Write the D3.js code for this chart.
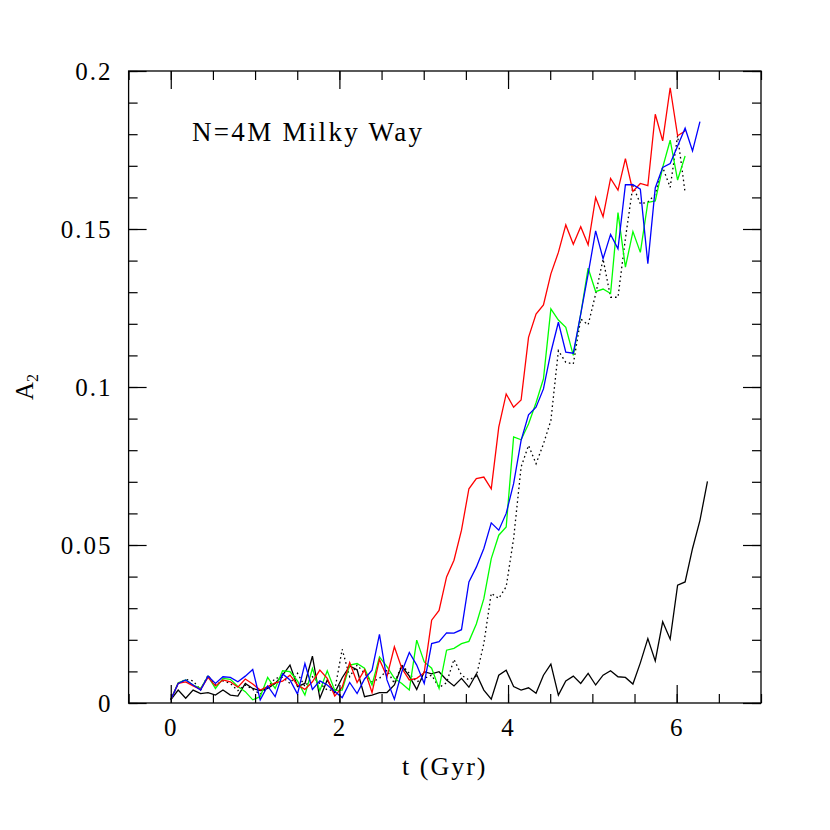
<!DOCTYPE html>
<html>
<head>
<meta charset="utf-8">
<script src="https://cdn.jsdelivr.net/npm/d3@7"></script>
<style>
  html, body { margin: 0; padding: 0; background: #fff; }
  svg { display: block; }
  .tick-label { font-family: "Liberation Serif", serif; font-size: 25px; letter-spacing: 2px; fill: #000; }
</style>
</head>
<body>
<svg id="chart" width="830" height="830"></svg>
<script>
const tGyr = [0, 0.088, 0.177, 0.265, 0.354, 0.442, 0.530, 0.619, 0.707, 0.796,
  0.884, 0.972, 1.061, 1.149, 1.238, 1.326, 1.414, 1.503, 1.591, 1.680,
  1.768, 1.856, 1.945, 2.033, 2.122, 2.210, 2.298, 2.387, 2.475, 2.564,
  2.652, 2.740, 2.829, 2.917, 3.006, 3.094, 3.182, 3.271, 3.359, 3.448,
  3.536, 3.624, 3.713, 3.801, 3.890, 3.978, 4.066, 4.155, 4.243, 4.332,
  4.420, 4.508, 4.597, 4.685, 4.774, 4.862, 4.950, 5.039, 5.127, 5.216,
  5.304, 5.392, 5.481, 5.569, 5.658, 5.746, 5.834, 5.923, 6.011, 6.100,
  6.188, 6.276, 6.365];

const a2Black = [0.001, 0.0041, 0.0015, 0.0041, 0.003, 0.0033, 0.0025, 0.0041, 0.0025, 0.0022,
  0.0062, 0.0046, 0.0039, 0.0046, 0.0062, 0.0088, 0.012, 0.0052, 0.0062, 0.0148,
  0.0015, 0.0073, 0.0033, 0.008, 0.0117, 0.0105, 0.002, 0.0025, 0.0033, 0.0033,
  0.0057, 0.0117, 0.0085, 0.0043, 0.0099, 0.0092, 0.0099, 0.0073, 0.0054, 0.0078,
  0.005, 0.0092, 0.0041, 0.0012, 0.0088, 0.0104, 0.0052, 0.0041, 0.0048, 0.0031,
  0.0088, 0.0123, 0.0025, 0.007, 0.0085, 0.0062, 0.0094, 0.0057, 0.0088, 0.0102,
  0.0083, 0.0081, 0.006, 0.0127, 0.0204, 0.0133, 0.0257, 0.0202, 0.0373, 0.0383,
  0.0489, 0.0578, 0.0701];

const a2Dotted = [0.001, 0.0062, 0.0075, 0.007, 0.0041, 0.0088, 0.0057, 0.007, 0.0062, 0.0039,
  0.0057, 0.0043, 0.0028, 0.0049, 0.0078, 0.0081, 0.0062, 0.0094, 0.0052, 0.0083,
  0.0062, 0.0041, 0.0041, 0.017, 0.0083, 0.012, 0.0094, 0.0067, 0.0078, 0.0104,
  0.0062, 0.012, 0.0094, 0.0067, 0.0078, 0.0088, 0.0049, 0.0064, 0.0138, 0.0088,
  0.0073, 0.0085, 0.0188, 0.0347, 0.0331, 0.0368, 0.052, 0.0747, 0.0815, 0.0757,
  0.082, 0.0894, 0.1115, 0.1078, 0.1073, 0.1215, 0.1197, 0.1294, 0.1405, 0.1284,
  0.1284, 0.147, 0.1637, 0.158, 0.1585, 0.161, 0.1695, 0.1632, 0.1795, 0.1615];

const a2Green = [0.001, 0.0064, 0.0073, 0.0057, 0.0046, 0.0085, 0.0046, 0.0078, 0.0075, 0.0052,
  0.0036, 0.001, 0.002, 0.0081, 0.0046, 0.0102, 0.0099, 0.007, 0.0025, 0.0109,
  0.0039, 0.0102, 0.004, 0.0041, 0.012, 0.0125, 0.011, 0.0057, 0.0146, 0.0115,
  0.0078, 0.0062, 0.0041, 0.0199, 0.013, 0.011, 0.0046, 0.0167, 0.0173, 0.0188,
  0.0195, 0.025, 0.033, 0.0457, 0.0531, 0.0557, 0.0842, 0.0833, 0.0883, 0.095,
  0.1026, 0.1247, 0.1212, 0.1189, 0.11, 0.1231, 0.1376, 0.1302, 0.131, 0.1296,
  0.1552, 0.1379, 0.1492, 0.1426, 0.1584, 0.1589, 0.1695, 0.1781, 0.1655, 0.1731];

const a2Red = [0.001, 0.0062, 0.0067, 0.0054, 0.0043, 0.0081, 0.0054, 0.0073, 0.0067, 0.005,
  0.0076, 0.006, 0.0041, 0.0052, 0.0064, 0.0069, 0.0088, 0.0057, 0.0043, 0.0067,
  0.0104, 0.0078, 0.0022, 0.005, 0.0128, 0.0065, 0.0105, 0.0033, 0.0138, 0.0083,
  0.0178, 0.011, 0.0073, 0.0078, 0.0096, 0.0262, 0.0293, 0.0399, 0.0452, 0.0547,
  0.0678, 0.071, 0.0715, 0.0678, 0.0873, 0.0978, 0.0936, 0.0959, 0.1157, 0.1231,
  0.126, 0.1358, 0.1426, 0.1513, 0.1452, 0.1507, 0.145, 0.16, 0.1539, 0.166,
  0.1623, 0.1723, 0.1619, 0.1644, 0.1637, 0.1863, 0.1779, 0.1947, 0.1795, 0.181];

const a2Blue = [0.001, 0.0062, 0.0073, 0.0057, 0.0041, 0.0085, 0.0062, 0.0083, 0.0081, 0.0067,
  0.0085, 0.0106, 0.001, 0.0054, 0.002, 0.0092, 0.0073, 0.0028, 0.0125, 0.0043,
  0.007, 0.0057, 0.0036, 0.0017, 0.0065, 0.003, 0.0076, 0.0104, 0.0217, 0.0073,
  0.0012, 0.0099, 0.016, 0.012, 0.0062, 0.0188, 0.0194, 0.0222, 0.0221, 0.0232,
  0.0383, 0.043, 0.0489, 0.057, 0.0547, 0.06, 0.0694, 0.0831, 0.0912, 0.0936,
  0.0994, 0.111, 0.1205, 0.111, 0.1107, 0.1231, 0.1358, 0.1494, 0.1406, 0.1483,
  0.1437, 0.164, 0.164, 0.1626, 0.139, 0.163, 0.1695, 0.1707, 0.1763, 0.1819,
  0.1747, 0.184];

const xTicks = [0, 2, 4, 6];
const xTickLabels = ["0", "2", "4", "6"];
const yTicks = [0, 0.05, 0.1, 0.15, 0.2];
const yTickLabels = ["0", "0.05", "0.1", "0.15", "0.2"];

const series = [
  { values: a2Black, color: "#000000", dash: null },
  { values: a2Dotted, color: "#000000", dash: "1.6,3" },
  { values: a2Green, color: "#00ff00", dash: null },
  { values: a2Red, color: "#ff0000", dash: null },
  { values: a2Blue, color: "#0000ff", dash: null }
];

const frameLeft = 128.6, frameRight = 761, frameTop = 71, frameBottom = 703;
const svg = d3.select("#chart");
svg.append("rect").attr("width", 830).attr("height", 830).attr("fill", "#fff");

const x = d3.scaleLinear().domain([-0.5, 7]).range([frameLeft, frameRight]);
const y = d3.scaleLinear().domain([0, 0.2]).range([frameBottom, frameTop]);

const line = d3.line()
  .x((d, i) => x(tGyr[i]))
  .y(d => y(d));

const plot = svg.append("g");
series.forEach(s => {
  plot.append("path")
    .datum(s.values)
    .attr("d", line)
    .attr("fill", "none")
    .attr("stroke", s.color)
    .attr("stroke-width", 1.3)
    .attr("stroke-linejoin", "miter")
    .attr("stroke-dasharray", s.dash);
});

const xMinor = d3.range(-0.5, 7.01, 0.5);
const yMinor = d3.range(0, 0.2001, 0.01);

function styleAxis(g) {
  g.select(".domain").remove();
  g.selectAll(".tick line").attr("stroke", "#000").attr("stroke-width", 1.2);
}

// inward ticks on all four sides
svg.append("g").attr("transform", `translate(0,${frameBottom})`)
  .call(d3.axisBottom(x).tickValues(xMinor).tickSize(-9).tickFormat("")).call(styleAxis);
svg.append("g").attr("transform", `translate(0,${frameTop})`)
  .call(d3.axisTop(x).tickValues(xMinor).tickSize(-9).tickFormat("")).call(styleAxis);
svg.append("g").attr("transform", `translate(${frameLeft},0)`)
  .call(d3.axisLeft(y).tickValues(yMinor).tickSize(-9).tickFormat("")).call(styleAxis);
svg.append("g").attr("transform", `translate(${frameRight},0)`)
  .call(d3.axisRight(y).tickValues(yMinor).tickSize(-9).tickFormat("")).call(styleAxis);

const xAxis = svg.append("g").attr("transform", `translate(0,${frameBottom})`)
  .call(d3.axisBottom(x).tickValues(xTicks).tickSize(-18).tickPadding(15)
    .tickFormat((d, i) => xTickLabels[i]))
  .call(styleAxis);
svg.append("g").attr("transform", `translate(0,${frameTop})`)
  .call(d3.axisTop(x).tickValues(xTicks).tickSize(-18).tickFormat("")).call(styleAxis);
const yAxis = svg.append("g").attr("transform", `translate(${frameLeft},0)`)
  .call(d3.axisLeft(y).tickValues(yTicks).tickSize(-18).tickPadding(16)
    .tickFormat((d, i) => yTickLabels[i]))
  .call(styleAxis);
svg.append("g").attr("transform", `translate(${frameRight},0)`)
  .call(d3.axisRight(y).tickValues(yTicks).tickSize(-18).tickFormat("")).call(styleAxis);

[xAxis, yAxis].forEach(g => {
  g.attr("font-family", null).attr("font-size", null);
  g.selectAll(".tick text").attr("class", "tick-label");
});

svg.append("rect")
  .attr("x", frameLeft).attr("y", frameTop)
  .attr("width", frameRight - frameLeft).attr("height", frameBottom - frameTop)
  .attr("fill", "none").attr("stroke", "#000").attr("stroke-width", 1.3);

svg.append("text")
  .attr("x", (frameLeft + frameRight) / 2).attr("y", 775)
  .attr("text-anchor", "middle")
  .attr("font-family", "Liberation Serif, serif").attr("font-size", 26)
  .attr("letter-spacing", 2)
  .text("t (Gyr)");

const yTitle = svg.append("text")
  .attr("transform", `translate(33,${(frameTop + frameBottom) / 2}) rotate(-90)`)
  .attr("text-anchor", "middle")
  .attr("font-family", "Liberation Serif, serif").attr("font-size", 25);
yTitle.append("tspan").text("A");
yTitle.append("tspan").attr("font-size", 16).attr("dy", 5).text("2");

svg.append("text")
  .attr("x", 192).attr("y", 141)
  .attr("font-family", "Liberation Serif, serif").attr("font-size", 27)
  .attr("textLength", 230).attr("lengthAdjust", "spacing")
  .text("N=4M Milky Way");
</script>
</body>
</html>
